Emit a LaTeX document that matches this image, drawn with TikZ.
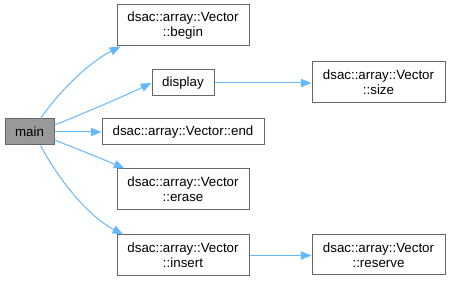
\documentclass[tikz,border=0pt]{standalone}
\usepackage{fontspec}
\setmainfont{Liberation Sans}
\usepackage{xcolor}
\usepackage{tikz}
\usetikzlibrary{arrows.meta, positioning}

\definecolor{edgeblue}{HTML}{63B8FF}
\definecolor{boxline}{HTML}{666666}
\definecolor{mainfill}{HTML}{999999}

\begin{document}
\begin{tikzpicture}[
    x=0.75pt, y=-0.75pt,
    % Node styles
    fn/.style={rectangle, draw=boxline, line width=0.75pt, fill=white, inner sep=0pt, align=center, font=\fontsize{10}{11.3}\selectfont},
    fnwide/.style={fn, minimum width=99pt, minimum height=30.75pt},
    fnsmall/.style={fn, minimum height=19.5pt},
    call/.style={-{Triangle[length=8pt, width=6.2pt]}, draw=edgeblue, line width=0.75pt}
]
\useasboundingbox (0,0) rectangle (450,281);

% Caller
\node[fnsmall, fill=mainfill, minimum width=36.75pt] (main) at (29.5,132) {main};

% Called functions
\node[fnwide] (begin) at (183,25.5) {dsac::array::Vector\\::begin};
\node[fnsmall, minimum width=46.5pt] (display) at (183,83) {display};
\node[fnsmall, minimum width=121.5pt] (end) at (183,132) {dsac::array::Vector::end};
\node[fnwide] (erase) at (183,189.5) {dsac::array::Vector\\::erase};
\node[fnwide] (insert) at (183,255.5) {dsac::array::Vector\\::insert};

% Second level
\node[fnwide, minimum width=99.75pt] (size) at (378.5,82.5) {dsac::array::Vector\\::size};
\node[fnwide, minimum width=99.75pt, minimum height=30pt] (reserve) at (378.5,255) {dsac::array::Vector\\::reserve};

% Calls from main
\draw[call] (main.north east) ++(-14,0) .. controls (62,88) and (90,62) .. ([xshift=3pt]begin.south west);
\draw[call] (main.east) ++(0,-7) .. controls (80,115) and (120,98) .. (display.west);
\draw[call] (main.east) -- (end.west);
\draw[call] (main.east) ++(0,8) .. controls (80,150) and (105,160) .. ([xshift=6pt]erase.north west);
\draw[call] (main.south east) ++(-14,0) .. controls (62,185) and (90,217) .. ([xshift=5pt]insert.north west);

% Calls further down
\draw[call] (display.east) -- (display.east -| size.west);
\draw[call] (insert.east) -- (insert.east -| reserve.west);

\end{tikzpicture}
\end{document}
